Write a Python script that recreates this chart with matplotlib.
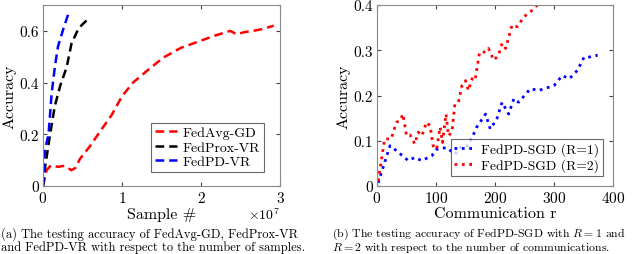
import matplotlib
matplotlib.use('Agg')
import matplotlib.pyplot as plt

plt.rcParams['font.family'] = ['cmr10', 'DejaVu Serif']
plt.rcParams['mathtext.fontset'] = 'cm'
plt.rcParams['axes.formatter.use_mathtext'] = True
plt.rcParams['axes.unicode_minus'] = False

# left panel: samples in units of 1e7
avg_x = [0, 0.046, 0.1, 0.19, 0.27, 0.36, 0.41, 0.47, 0.59, 0.72, 0.87, 1.0, 1.14, 1.31, 1.52, 1.75,
         1.99, 2.16, 2.37, 2.45, 2.55, 2.66, 2.78, 2.92]
avg_y = [0, 0.061, 0.08, 0.074, 0.078, 0.061, 0.07, 0.106, 0.152, 0.21, 0.275, 0.347, 0.40, 0.444,
         0.496, 0.535, 0.561, 0.58, 0.60, 0.587, 0.595, 0.60, 0.607, 0.62]
prox_x = [0, 0.03, 0.09, 0.15, 0.22, 0.30, 0.36, 0.45, 0.55]
prox_y = [0, 0.08, 0.2, 0.31, 0.39, 0.46, 0.55, 0.61, 0.64]
pd_x = [0, 0.025, 0.07, 0.11, 0.15, 0.19, 0.26, 0.32]
pd_y = [0, 0.14, 0.20, 0.36, 0.46, 0.54, 0.61, 0.665]

# right panel: communication rounds
r1_x = [2, 22, 33, 53, 64, 76, 93, 101, 118, 132, 144, 155, 169, 184, 192, 203, 212, 223, 232, 240,
        260, 274, 300, 314, 326, 340, 351, 360, 374]
r1_y = [0.007, 0.089, 0.078, 0.056, 0.063, 0.056, 0.067, 0.081, 0.085, 0.07, 0.089, 0.089, 0.13,
        0.159, 0.126, 0.148, 0.185, 0.159, 0.193, 0.185, 0.215, 0.211, 0.222, 0.244, 0.237, 0.256,
        0.285, 0.285, 0.289]
r2_x = [2, 13, 24, 33, 39, 44, 50, 56, 64, 70, 76, 84, 90, 95, 101, 107, 111, 117, 121, 127, 132,
        138, 144, 150, 155, 161, 166, 174, 184, 189, 198, 206, 212, 218, 229, 238, 249, 260, 272]
r2_y = [0.011, 0.104, 0.104, 0.141, 0.144, 0.159, 0.111, 0.113, 0.093, 0.119, 0.111, 0.141, 0.133,
        0.089, 0.081, 0.13, 0.096, 0.159, 0.111, 0.119, 0.181, 0.185, 0.222, 0.233, 0.211, 0.237,
        0.233, 0.296, 0.296, 0.304, 0.278, 0.289, 0.315, 0.304, 0.356, 0.352, 0.374, 0.385, 0.4]

fig = plt.figure(figsize=(6.4, 2.55), dpi=100)

def style(ax):
    ax.tick_params(direction='in', top=True, right=True, labelsize=11, length=3, color='#444444', pad=3)
    for s in ax.spines.values():
        s.set_color('#888888')
        s.set_linewidth(0.8)

ax1 = fig.add_axes([43/640, 1 - 187/255, 237/640, 181/255])
ax1.plot(avg_x, avg_y, '--', color='r', lw=1.8, dashes=(3.5, 2), label='FedAvg-GD')
ax1.plot(prox_x, prox_y, '--', color='k', lw=1.8, dashes=(3.5, 2), label='FedProx-VR')
ax1.plot(pd_x, pd_y, '--', color='b', lw=1.8, dashes=(3.5, 2), label='FedPD-VR')
ax1.set_xlim(0, 3)
ax1.set_ylim(0, 0.7)
ax1.set_xticks([0, 1, 2, 3])
ax1.set_yticks([0, 0.2, 0.4, 0.6])
ax1.set_yticklabels(['0', '0.2', '0.4', '0.6'])
ax1.set_ylabel('Accuracy', fontsize=11.5, labelpad=2)
ax1.set_xlabel('Sample #', fontsize=11.5, labelpad=1)
ax1.text(1.0, -0.155, r'$\times 10^7$', transform=ax1.transAxes, ha='right', va='center', fontsize=10)
style(ax1)
leg1 = ax1.legend(loc='lower right', fontsize=10, frameon=True, fancybox=False, edgecolor='#444444',
                  handlelength=1.6, handletextpad=0.4, borderpad=0.25, labelspacing=0.15,
                  bbox_to_anchor=(0.96, 0.04))
leg1.get_frame().set_linewidth(0.8)

ax2 = fig.add_axes([377/640, 1 - 187/255, 236/640, 181/255])
ax2.plot(r1_x, r1_y, ':', color='b', lw=2, label='FedPD-SGD (R=1)')
ax2.plot(r2_x, r2_y, ':', color='r', lw=2, label='FedPD-SGD (R=2)')
ax2.set_xlim(0, 400)
ax2.set_ylim(0, 0.4)
ax2.set_xticks([0, 100, 200, 300, 400])
ax2.set_yticks([0, 0.1, 0.2, 0.3, 0.4])
ax2.set_yticklabels(['0', '0.1', '0.2', '0.3', '0.4'])
ax2.set_ylabel('Accuracy', fontsize=11.5, labelpad=2)
ax2.set_xlabel('Communication r', fontsize=11.5, labelpad=1)
style(ax2)
leg2 = ax2.legend(loc='lower right', fontsize=9.8, frameon=True, fancybox=False, edgecolor='#444444',
                  handlelength=1.6, handletextpad=0.4, borderpad=0.25, labelspacing=0.15,
                  bbox_to_anchor=(0.985, 0.02))
leg2.get_frame().set_linewidth(0.8)

fig.text(1/640, 1 - 234/255, '(a) The testing accuracy of FedAvg-GD, FedProx-VR', fontsize=9.0, va='center')
fig.text(1/640, 1 - 248/255, 'and FedPD-VR with respect to the number of samples.', fontsize=9.0, va='center')
fig.text(332/640, 1 - 234/255, r'(b) The testing accuracy of FedPD-SGD with $R = 1$ and', fontsize=8.5, va='center')
fig.text(332/640, 1 - 248/255, r'$R = 2$ with respect to the number of communications.', fontsize=8.5, va='center')

fig.savefig('out.png', dpi=100)
